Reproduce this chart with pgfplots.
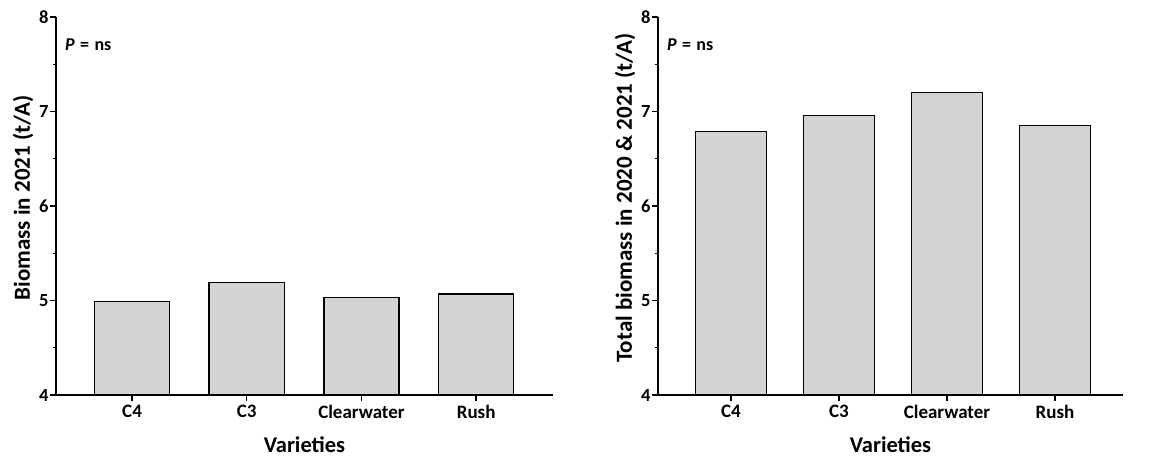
\documentclass[border=0pt]{standalone}
\usepackage{fontspec}
\setmainfont{Carlito}
\usepackage{pgfplots}
\pgfplotsset{compat=1.18}

\definecolor{barfill}{RGB}{211,211,211}

\tikzset{pnote/.style={anchor=west, inner xsep=0pt, font=\bfseries\fontsize{18pt}{18pt}\selectfont}}

\pgfplotsset{
  biomass/.style={
    scale only axis,
    height=378pt,
    ymin=4, ymax=8,
    ytick={4,5,6,7,8},
    minor y tick num=1,
    xtick={0,1,2,3},
    xticklabels={C4,C3,Clearwater,Rush},
    axis lines*=left,
    axis line style={-, line width=1.5pt},
    tick style={black, line width=1.4pt},
    major tick length=6pt,
    minor tick length=3pt,
    tick align=outside,
    /pgf/number format/assume math mode=true,
    y tick label style={font=\bfseries\fontsize{18.5pt}{18.5pt}\selectfont, xshift=2pt},
    x tick label style={font=\bfseries\fontsize{19pt}{19pt}\selectfont, yshift=-1pt},
    every axis y label/.style={at={(axis description cs:0,0.5)}, xshift=-33pt, yshift=8pt, rotate=90, anchor=center,
      font=\bfseries\fontsize{23pt}{23pt}\selectfont},
    every axis x label/.style={at={(axis description cs:0.5,0)}, yshift=-50pt, anchor=center,
      font=\bfseries\fontsize{22.5pt}{22.5pt}\selectfont},
    xlabel={Varieties},
    ybar, bar shift=0pt, bar width=0.655,
  },
  barstyle/.style={fill=barfill, draw=black, line width=1.5pt},
}

\begin{document}
\begin{tikzpicture}
\path (0pt,0pt) rectangle (1154pt,458pt);

% left panel: 2021
\begin{axis}[biomass, at={(56pt,63pt)}, anchor=south west,
  width=497pt, xmin=-0.663, xmax=3.67,
  ylabel={Biomass in 2021 (t/A)}]
\addplot[barstyle] coordinates {(0,4.99) (1,5.19) (2,5.03) (3,5.07)};
\node[pnote] at (rel axis cs:0.018,0.926) {\textit{P}\hspace{0.3em}=\hspace{0.3em}ns};
\end{axis}

% right panel: 2020 & 2021 total
\begin{axis}[biomass, at={(658pt,63pt)}, anchor=south west,
  width=465pt, xmin=-0.676, xmax=3.63,
  ylabel={Total biomass in 2020 \& 2021 (t/A)}]
\addplot[barstyle] coordinates {(0,6.79) (1,6.96) (2,7.20) (3,6.85)};
\node[pnote] at (rel axis cs:0.019,0.926) {\textit{P}\hspace{0.3em}=\hspace{0.3em}ns};
\end{axis}
\end{tikzpicture}
\end{document}
